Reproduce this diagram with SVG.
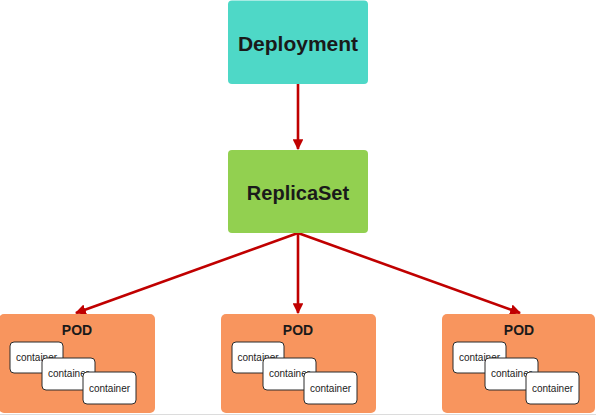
<svg xmlns="http://www.w3.org/2000/svg" width="596" height="416" viewBox="0 0 596 416">
<defs>
<marker id="ah" viewBox="0 0 10 10" refX="9" refY="5" markerWidth="4.2" markerHeight="4.2" orient="auto" markerUnits="strokeWidth">
<path d="M0,0 L10,5 L0,10 z" fill="#C00000"/>
</marker>
<style>
.title{font-family:"Liberation Sans",Arial,sans-serif;font-weight:bold;fill:#1a1a1a;text-anchor:middle}
.pod{fill:#F8955E}
.pl{font-family:"Liberation Sans",Arial,sans-serif;font-weight:bold;font-size:14px;fill:#1a1a1a;text-anchor:middle}
.c{fill:#fff;stroke:#2b2b2b;stroke-width:1}
.ct{font-family:"Liberation Sans",Arial,sans-serif;font-size:10px;fill:#222;text-anchor:middle}
.e{stroke:#C00000;stroke-width:2.6;fill:none;marker-end:url(#ah)}
</style>
</defs>
<rect width="596" height="416" fill="#fff"/>
<line x1="0" y1="414.5" x2="596" y2="414.5" stroke="#dcdcdc" stroke-width="1"/>
<g id="connectors">
<line class="e" x1="298" y1="84" x2="298" y2="149"/>
<line class="e" x1="298" y1="233" x2="76" y2="313"/>
<line class="e" x1="298" y1="233" x2="298" y2="313"/>
<line class="e" x1="298" y1="233" x2="520" y2="313"/>
</g>
<g id="deployment">
<rect x="228" y="0.5" width="140" height="83.5" rx="4" fill="#4ED8C7"/>
<text class="title" x="298" y="51" font-size="21">Deployment</text>
</g>
<g id="replicaset">
<rect x="228" y="150" width="140" height="83" rx="4" fill="#92D050"/>
<text class="title" x="298" y="200" font-size="20">ReplicaSet</text>
</g>
<g id="pod1">
<rect class="pod" x="-1" y="314" width="156" height="99" rx="5"/>
<text class="pl" x="77" y="335">POD</text>
<rect class="c" x="10" y="342" width="53" height="31" rx="4"/>
<text class="ct" x="36.5" y="361">container</text>
<rect class="c" x="42" y="358" width="53" height="32" rx="4"/>
<text class="ct" x="68.5" y="377">container</text>
<rect class="c" x="83" y="372" width="53" height="32" rx="4"/>
<text class="ct" x="109.5" y="392">container</text>
</g>
<g id="pod2">
<rect class="pod" x="221" y="314" width="155" height="99" rx="5"/>
<text class="pl" x="298" y="335">POD</text>
<rect class="c" x="232" y="342" width="52" height="31" rx="4"/>
<text class="ct" x="258" y="361">container</text>
<rect class="c" x="263" y="358" width="53" height="32" rx="4"/>
<text class="ct" x="289.5" y="377">container</text>
<rect class="c" x="304" y="372" width="53" height="32" rx="4"/>
<text class="ct" x="330.5" y="392">container</text>
</g>
<g id="pod3">
<rect class="pod" x="442" y="314" width="153" height="99" rx="5"/>
<text class="pl" x="519" y="335">POD</text>
<rect class="c" x="453" y="342" width="53" height="31" rx="4"/>
<text class="ct" x="479.5" y="361">container</text>
<rect class="c" x="485" y="358" width="53" height="32" rx="4"/>
<text class="ct" x="511.5" y="377">container</text>
<rect class="c" x="526" y="372" width="53" height="32" rx="4"/>
<text class="ct" x="552.5" y="392">container</text>
</g>
</svg>
